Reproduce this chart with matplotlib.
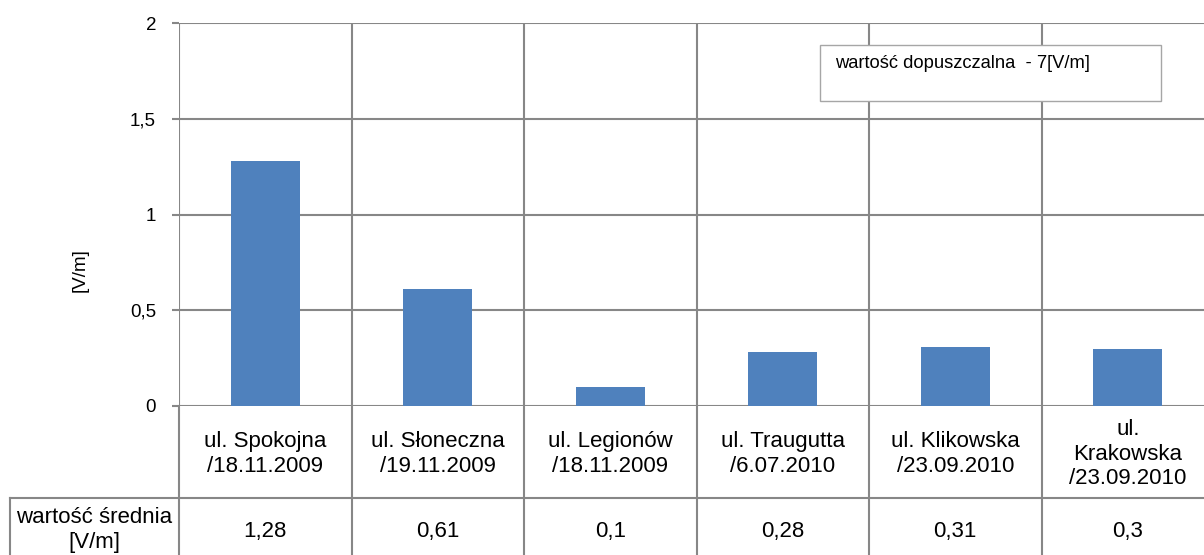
import matplotlib
matplotlib.use("Agg")
import matplotlib.pyplot as plt
from matplotlib.patches import Rectangle

plt.rcParams['font.family'] = ['Liberation Sans', 'DejaVu Sans']

categories = ["ul. Spokojna\n/18.11.2009", "ul. Słoneczna\n/19.11.2009", "ul. Legionów\n/18.11.2009",
              "ul. Traugutta\n/6.07.2010", "ul. Klikowska\n/23.09.2010", "ul.\nKrakowska\n/23.09.2010"]
values = [1.28, 0.61, 0.1, 0.28, 0.31, 0.3]
value_labels = ["1,28", "0,61", "0,1", "0,28", "0,31", "0,3"]
yticks = [0, 0.5, 1, 1.5, 2]
ytick_labels = ["0", "0,5", "1", "1,5", "2"]
row_header = "wartość średnia\n[V/m]"
legend_text = "wartość dopuszczalna  - 7[V/m]"
ylabel = "[V/m]"

W, H = 1204, 555
fig = plt.figure(figsize=(W/100, H/100), dpi=100)
ax_l, ax_r, ax_t, ax_b = 179, 1214, 23, 406
ax = fig.add_axes([ax_l/W, 1 - ax_b/H, (ax_r-ax_l)/W, (ax_b-ax_t)/H])

grid_c = '#878787'
n = len(categories)
x = list(range(n))
ax.bar(x, values, width=0.4, color='#4F81BD', zorder=3)
ax.set_xlim(-0.5, n - 0.5)
ax.set_ylim(0, 2)
ax.set_yticks(yticks)
ax.set_yticklabels(ytick_labels, fontsize=13.5)
ax.set_xticks([])
for s in ax.spines.values():
    s.set_visible(False)
for yv in yticks:
    ax.axhline(yv, color=grid_c, lw=1.5, zorder=1)
for b in range(n + 1):
    ax.axvline(b - 0.5, color=grid_c, lw=1.5, zorder=1)
ax.tick_params(axis='y', length=5, width=1.5, color=grid_c, pad=11.5)
ax.set_ylabel(ylabel, fontsize=13.5)
ax.yaxis.set_label_coords((89 - ax_l) / (ax_r - ax_l), (ax_b - 270) / (ax_b - ax_t))

# legend-like box
ax.add_patch(Rectangle((820/W, 1 - 101/H), (1161-820)/W, (101-45)/H, transform=fig.transFigure,
                       facecolor='white', edgecolor='#a6a6a6', lw=1.0, zorder=5))
fig.text(835/W, 1 - 63/H, legend_text, fontsize=13.2, va='center', ha='left', zorder=6)

# data table below
ah = ax_b - ax_t
def yfrac(px):
    return (ax_b - px) / ah
trans = ax.get_xaxis_transform()
row1_bot = yfrac(498)
tab_bot = yfrac(600)
for b in range(n + 1):
    ax.plot([b - 0.5, b - 0.5], [0, tab_bot], transform=trans, color=grid_c, lw=1.5, clip_on=False)
left_x = (10 - ax_l) / ((ax_r - ax_l) / n) - 0.5
ax.plot([left_x, n - 0.5], [row1_bot, row1_bot], transform=trans, color=grid_c, lw=1.5, clip_on=False)
ax.plot([left_x, left_x], [row1_bot, tab_bot], transform=trans, color=grid_c, lw=1.5, clip_on=False)

for i in range(n):
    ax.text(x[i], yfrac(454), categories[i], transform=trans, ha='center', va='center',
            fontsize=16, linespacing=1.2, clip_on=False)
    ax.text(x[i], yfrac(532), value_labels[i], transform=trans, ha='center', va='center',
            fontsize=16, clip_on=False)
ax.text((left_x - 0.5) / 2, yfrac(530), row_header, transform=trans, ha='center', va='center',
        fontsize=16, linespacing=1.2, clip_on=False)

fig.savefig("out.png", dpi=100)
